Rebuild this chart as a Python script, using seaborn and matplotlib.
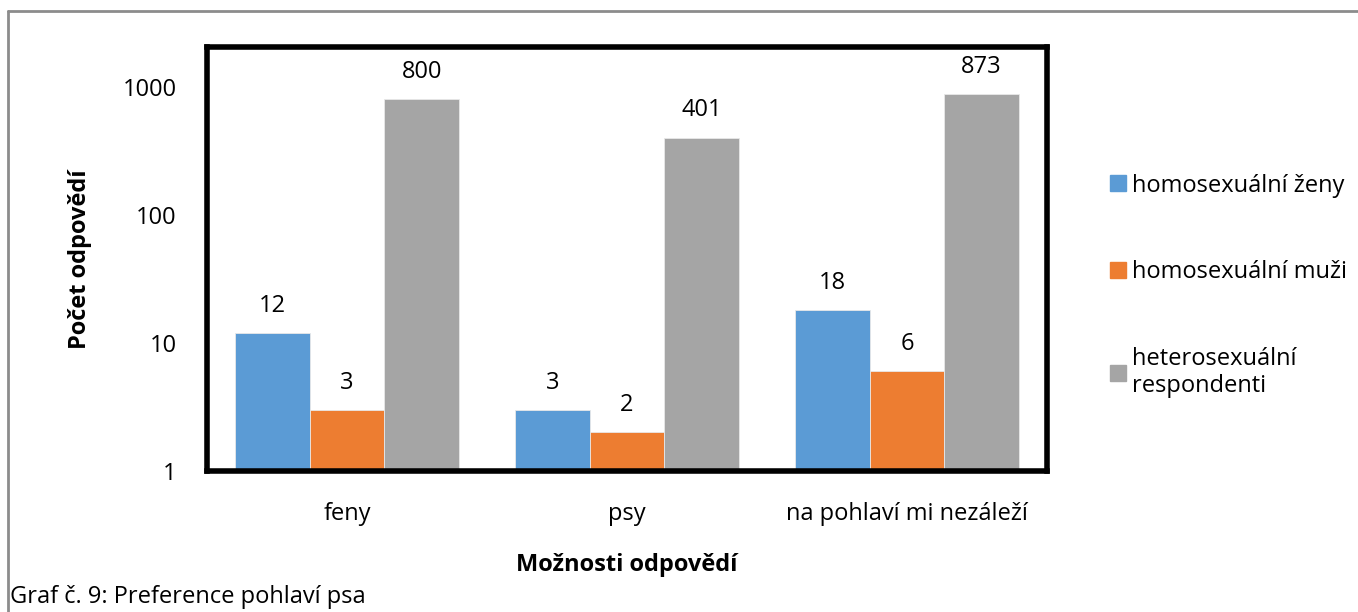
import pandas as pd
import matplotlib.pyplot as plt
import seaborn as sns
from matplotlib.lines import Line2D

categories = ["feny", "psy", "na pohlaví mi nezáleží"]
groups = ["homosexuální ženy", "homosexuální muži", "heterosexuální\nrespondenti"]
zeny = [12, 3, 18]
muzi = [3, 2, 6]
hetero = [800, 401, 873]
colors = ["#5B9BD5", "#ED7D31", "#A5A5A5"]
yticks = [1, 10, 100, 1000]

df = pd.DataFrame({
    "kategorie": categories * 3,
    "skupina": [groups[0]] * 3 + [groups[1]] * 3 + [groups[2]] * 3,
    "pocet": zeny + muzi + hetero,
})

sns.set_style("white")
plt.rcParams["font.family"] = ["Open Sans", "DejaVu Sans"]
plt.rcParams["text.color"] = "black"
plt.rcParams["axes.labelcolor"] = "black"
plt.rcParams["xtick.color"] = "black"
plt.rcParams["ytick.color"] = "black"

fig = plt.figure(figsize=(13.58, 6.12), dpi=100)
ax = fig.add_axes([207 / 1358, 1 - 471 / 612, 840 / 1358, 424 / 612])

sns.barplot(data=df, x="kategorie", y="pocet", hue="skupina", palette=colors,
            saturation=1, width=0.8, ax=ax, edgecolor="#e8e8e8", linewidth=0.6,
            legend=False)
ax.set_yscale("log")

ax.set_ylim(1, 2050)
ax.set_yticks(yticks)
ax.set_yticklabels([str(t) for t in yticks])
ax.minorticks_off()
ax.tick_params(axis="y", labelsize=17, length=0, pad=22)
ax.tick_params(axis="x", labelsize=17, length=0, pad=22)
for s in ax.spines.values():
    s.set_visible(True)
    s.set_color("black")
    s.set_linewidth(4)

for cont in ax.containers:
    ax.bar_label(cont, fmt="%g", padding=11, fontsize=17)

ax.set_xlabel("Možnosti odpovědí", fontsize=17, fontweight="bold", labelpad=20)
ax.set_ylabel("Počet odpovědí", fontsize=17, fontweight="bold", labelpad=22)

handles = [Line2D([], [], marker="s", linestyle="none", markersize=11,
                  markerfacecolor=c, markeredgecolor=c) for c in colors]
ax.legend(handles, groups, loc="center left", bbox_to_anchor=(1085 / 1358, 1 - 286 / 612),
          bbox_transform=fig.transFigure, frameon=False, fontsize=17,
          labelspacing=2.65, handletextpad=0.1, handlelength=1.0)

fig.add_artist(Line2D([8 / 1358, 1], [1 - 11 / 612, 1 - 11 / 612],
                      transform=fig.transFigure, color="#8c8c8c", linewidth=2))
fig.add_artist(Line2D([8 / 1358, 8 / 1358], [0, 1 - 11 / 612],
                      transform=fig.transFigure, color="#8c8c8c", linewidth=2))
fig.text(10 / 1358, 1 - 597 / 612, "Graf č. 9: Preference pohlaví psa",
         fontsize=17, va="center", ha="left")

fig.savefig("out.png", dpi=100)
